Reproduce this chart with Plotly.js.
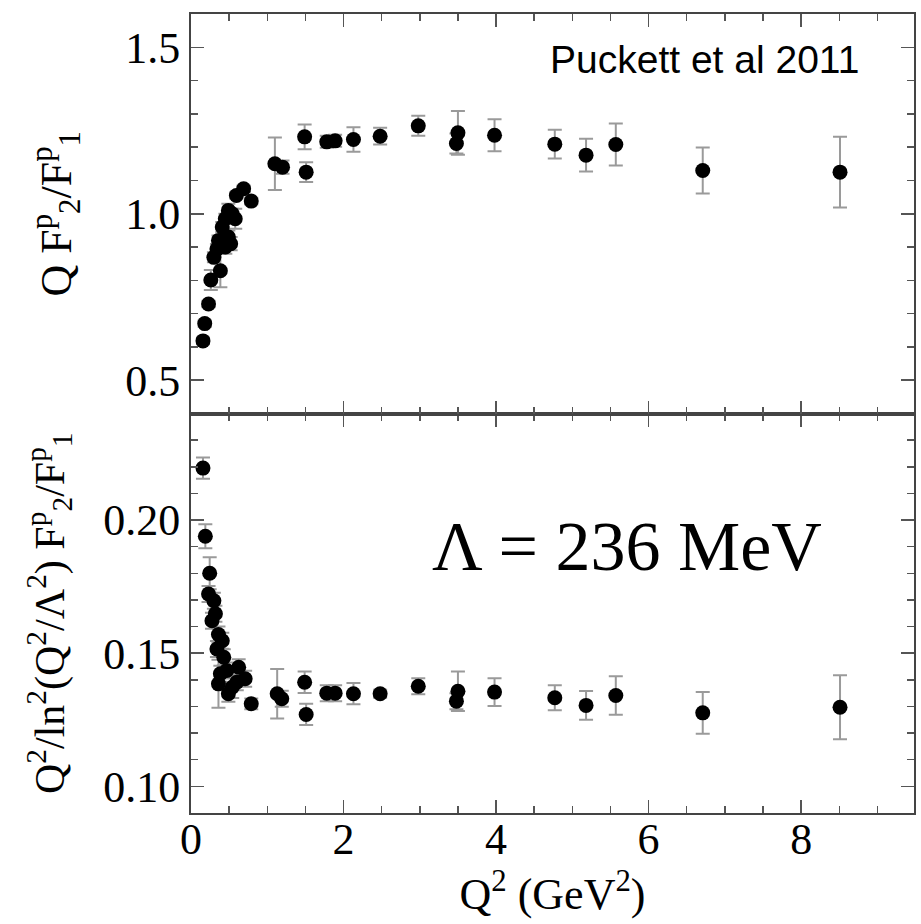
<!DOCTYPE html>
<html>
<head>
<meta charset="utf-8">
<script src="https://cdn.plot.ly/plotly-3.0.1.min.js"></script>
<style>html,body{margin:0;padding:0;background:#fff;}#chart{width:921px;height:924px;}</style>
</head>
<body>
<div id="chart"></div>
<script>
// Top panel: Q F2/F1
const q2Top = [0.157,0.18,0.23,0.26,0.30,0.34,0.36,0.385,0.41,0.45,0.45,0.49,0.49,0.52,0.54,0.58,0.595,0.69,0.79,
  1.10,1.20,1.49,1.51,1.78,1.89,2.13,2.48,2.98,3.48,3.50,3.98,4.77,5.18,5.57,6.71,8.51];
const ratioTop = [0.618,0.670,0.729,0.801,0.869,0.894,0.920,0.829,0.960,0.900,0.985,0.930,1.010,0.910,1.000,0.985,1.055,1.075,1.038,
  1.150,1.140,1.231,1.125,1.216,1.219,1.223,1.233,1.264,1.211,1.243,1.236,1.209,1.176,1.208,1.130,1.125];
const errTop = [0.01,0.01,0.01,0.03,0.015,0.015,0.015,0.05,0.015,0.02,0.015,0.02,0.02,0.02,0.015,0.03,0.01,0.01,0.01,
  0.079,0.02,0.037,0.03,0.018,0.018,0.037,0.025,0.03,0.03,0.066,0.048,0.043,0.049,0.063,0.069,0.106];

// Bottom panel: Q2/ln2(Q2/Lambda2) F2/F1
const q2Bot = [0.157,0.188,0.23,0.245,0.275,0.30,0.32,0.34,0.36,0.36,0.385,0.41,0.43,0.47,0.49,0.54,0.60,0.625,0.71,0.79,
  1.13,1.19,1.49,1.51,1.78,1.89,2.13,2.48,2.98,3.48,3.50,3.98,4.77,5.18,5.57,6.71,8.51];
const ratioBot = [0.2195,0.1939,0.1722,0.180,0.1622,0.1697,0.1648,0.1516,0.157,0.1385,0.1423,0.1547,0.1485,0.1435,0.1348,0.1372,0.1391,0.1447,0.1404,0.131,
  0.1348,0.1329,0.1391,0.127,0.135,0.135,0.1348,0.1348,0.1376,0.132,0.1357,0.1354,0.1333,0.1304,0.1341,0.1276,0.1297];
const errBot = [0.004,0.0045,0.003,0.006,0.003,0.003,0.003,0.003,0.003,0.009,0.003,0.003,0.003,0.003,0.003,0.004,0.003,0.003,0.003,0.002,
  0.0093,0.003,0.004,0.004,0.003,0.003,0.004,0.0015,0.003,0.003,0.0074,0.0052,0.0047,0.0054,0.0072,0.0078,0.012];

const serif = 'Liberation Serif, Times New Roman, serif';
const errStyle = {color:'#9a9a9a', thickness:2, width:7};
const mk = {color:'#000', size:15};

const traces = [
  {x:q2Top, y:ratioTop, xaxis:'x2', yaxis:'y2', type:'scatter', mode:'markers', marker:mk,
   error_y:Object.assign({type:'data', array:errTop, visible:true}, errStyle), showlegend:false, name:'Q F2/F1'},
  {x:q2Bot, y:ratioBot, xaxis:'x', yaxis:'y', type:'scatter', mode:'markers', marker:mk,
   error_y:Object.assign({type:'data', array:errBot, visible:true}, errStyle), showlegend:false, name:'scaled'}
];

const tickCol = '#555';
function minor(d){ return {ticks:'inside', dtick:d, tick0:0, ticklen:7, tickwidth:1.5, tickcolor:tickCol}; }
const axCommon = {
  showline:true, linecolor:'#444', linewidth:2, mirror:'allticks',
  ticks:'inside', ticklen:13, tickwidth:1.5, tickcolor:tickCol,
  showgrid:false, zeroline:false, tickmode:'linear',
  tickfont:{family:serif, size:44, color:'#000'}
};

const layout = {
  width:921, height:924,
  margin:{l:191, r:7, t:14, b:111},
  paper_bgcolor:'#fff', plot_bgcolor:'#fff',
  font:{family:serif, color:'#000'},
  xaxis:Object.assign({}, axCommon, {
    range:[0,9.48], anchor:'y', tick0:0, dtick:2,
    minor:minor(0.5), ticklabelstandoff:-14,
    title:{text:'Q<sup>2</sup> (GeV<sup>2</sup>)', font:{family:serif, size:44}, standoff:10}
  }),
  xaxis2:Object.assign({}, axCommon, {
    range:[0,9.48], anchor:'y2', matches:'x', showticklabels:false, tick0:0, dtick:2,
    minor:minor(0.5)
  }),
  yaxis:Object.assign({}, axCommon, {
    domain:[0,0.5], range:[0.09,0.24], anchor:'x',
    tick0:0, dtick:0.05, tickformat:'.2f',
    minor:minor(0.01),
    title:{text:'Q<sup>2</sup>/ln<sup>2</sup>(Q<sup>2</sup>/Λ<sup>2</sup>) F<sup>p</sup><sub>2</sub>/F<sup>p</sup><sub>1</sub>', font:{family:serif, size:42}, standoff:26}
  }),
  yaxis2:Object.assign({}, axCommon, {
    domain:[0.5,1], range:[0.4,1.6], anchor:'x2',
    tick0:0, dtick:0.5, tickformat:'.1f',
    minor:minor(0.1),
    title:{text:'Q F<sup>p</sup><sub>2</sub>/F<sup>p</sup><sub>1</sub>', font:{family:serif, size:44}, standoff:40}
  }),
  annotations:[
    {text:'Puckett et al 2011', xref:'paper', yref:'paper', x:0.927, y:0.943, xanchor:'right', yanchor:'middle',
     showarrow:false, font:{family:'Liberation Sans, Arial, sans-serif', size:39, color:'#000'}},
    {text:'Λ = 236 MeV', xref:'paper', yref:'paper', x:0.331, y:0.333, xanchor:'left', yanchor:'middle',
     showarrow:false, font:{family:serif, size:70, color:'#000'}}
  ]
};

Plotly.newPlot('chart', traces, layout, {displayModeBar:false, staticPlot:true});
</script>
</body>
</html>
